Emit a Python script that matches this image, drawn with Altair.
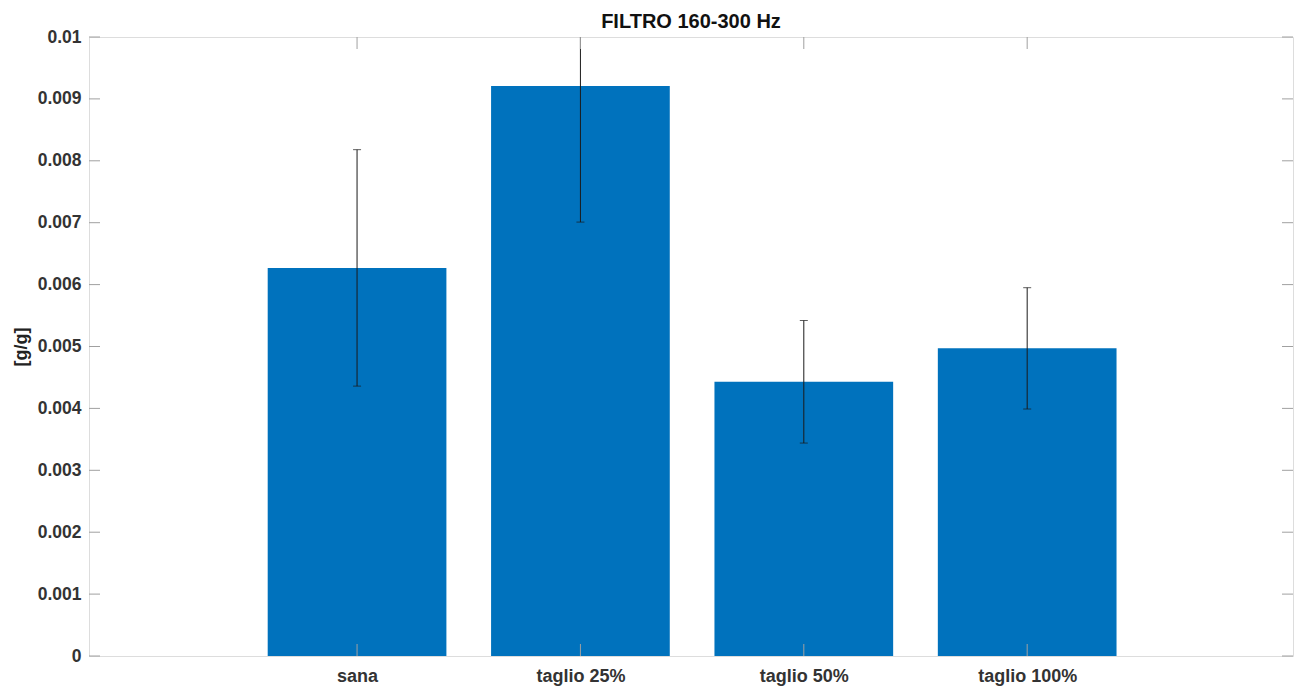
import altair as alt
import pandas as pd

# Bar data: mean response per condition with its error half-width
categories = ["sana", "taglio 25%", "taglio 50%", "taglio 100%"]
positions = [1, 2, 3, 4]
means = [0.00627, 0.00921, 0.00443, 0.00497]
errors = [0.00191, 0.00220, 0.00099, 0.00098]
y_tick_values = [0, 0.001, 0.002, 0.003, 0.004, 0.005, 0.006, 0.007, 0.008, 0.009, 0.01]

W, H = 1204, 619
BAR_COLOR = "#0072BD"
FRAME = "#a0a0a0"
LABEL = "#333333"
FONT = "Liberation Sans"

df = pd.DataFrame({"cat": categories, "pos": positions, "mean": means, "err": errors})
df["lo"] = df["mean"] - df["err"]
df["hi"] = df["mean"] + df["err"]
yticks = pd.DataFrame({"v": y_tick_values})

xs = alt.Scale(domain=[-0.2, 5.19], nice=False, zero=False)
ys = alt.Scale(domain=[0, 0.01], nice=False, zero=False)

label_expr = "['', " + ", ".join(f"'{c}'" for c in categories) + "][datum.value]"

x_axis = alt.Axis(values=positions, labelExpr=label_expr, title=None, ticks=False,
                  domain=False, grid=False, labelPadding=11, labelFontSize=18,
                  labelFontWeight="bold", labelColor=LABEL, labelFont=FONT)
y_axis = alt.Axis(values=y_tick_values, format="~g", title="[g/g]", ticks=False,
                  domain=False, grid=False, labelPadding=8, labelFontSize=17.5,
                  labelFontWeight="bold", labelColor=LABEL, labelFont=FONT,
                  titleFontSize=18, titleFontWeight="bold", titleColor="#222222",
                  titleFont=FONT, titlePadding=7)

base = alt.Chart(df)

bars = base.mark_bar(color=BAR_COLOR).transform_calculate(
    x0="datum.pos - 0.4", x1="datum.pos + 0.4"
).encode(
    x=alt.X("x0:Q", scale=xs, axis=x_axis),
    x2="x1:Q",
    y=alt.Y("mean:Q", scale=ys, axis=y_axis),
    y2=alt.datum(0),
)

err_rule = base.mark_rule(color="#1a1a1a", strokeWidth=1, clip=True).encode(
    x=alt.X("pos:Q", scale=xs), y=alt.Y("lo:Q", scale=ys), y2="hi:Q"
)
cap_lo = base.mark_tick(orient="horizontal", size=8, thickness=1, color="#1a1a1a",
                        clip=True).encode(x=alt.X("pos:Q", scale=xs), y=alt.Y("lo:Q", scale=ys))
cap_hi = base.mark_tick(orient="horizontal", size=8, thickness=1, color="#1a1a1a",
                        clip=True).encode(x=alt.X("pos:Q", scale=xs), y=alt.Y("hi:Q", scale=ys))

# Inward-pointing ticks on all four sides of the box
yt = alt.Chart(yticks)
tick_left = yt.mark_rule(color=FRAME, strokeWidth=1).encode(
    y=alt.Y("v:Q", scale=ys), x=alt.value(0), x2=alt.value(11))
tick_right = yt.mark_rule(color=FRAME, strokeWidth=1).encode(
    y=alt.Y("v:Q", scale=ys), x=alt.value(W - 11), x2=alt.value(W))
tick_bottom = base.mark_rule(color=FRAME, strokeWidth=1).encode(
    x=alt.X("pos:Q", scale=xs), y=alt.value(H - 12), y2=alt.value(H))
tick_top = base.mark_rule(color=FRAME, strokeWidth=1).encode(
    x=alt.X("pos:Q", scale=xs), y=alt.value(0), y2=alt.value(12))

chart = alt.layer(
    bars, err_rule, cap_lo, cap_hi, tick_left, tick_right, tick_bottom, tick_top
).properties(
    width=W, height=H,
    title=alt.TitleParams("FILTRO 160-300 Hz", fontSize=20, fontWeight="bold",
                          font=FONT, color="#111111", anchor="middle", offset=-4,
                          frame="group"),
    autosize=alt.AutoSizeParams(type="none"),
    padding={"left": 89, "top": 37, "right": 2, "bottom": 32},
).configure_view(
    stroke=FRAME, strokeWidth=1.5
).configure(background="white")

chart.save("out.html", embed_options={"renderer": "svg", "actions": False})
